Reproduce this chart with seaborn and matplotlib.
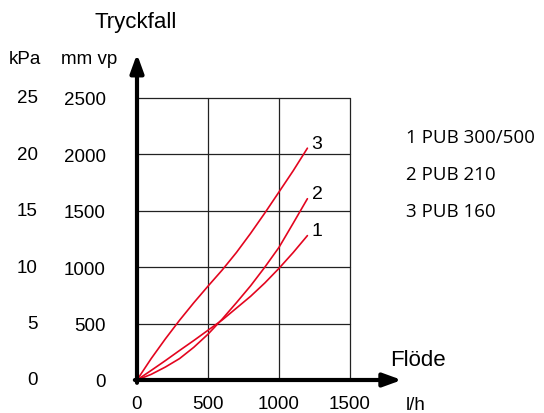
import matplotlib
matplotlib.use("Agg")
import matplotlib.pyplot as plt
import seaborn as sns

# flow in l/h, pressure drop in mm vp
flow = [0, 100, 200, 300, 400, 500, 600, 700, 800, 900, 1000, 1100, 1200]
pub_300_500 = [0, 85, 172, 262, 350, 441, 532, 637, 742, 860, 990, 1130, 1280]
pub_210 = [0, 50, 115, 190, 290, 406, 540, 685, 835, 1000, 1176, 1390, 1607]
pub_160 = [0, 190, 365, 530, 685, 832, 975, 1130, 1300, 1480, 1667, 1855, 2055]

series = [("1", "PUB 300/500", pub_300_500),
          ("2", "PUB 210", pub_210),
          ("3", "PUB 160", pub_160)]

x_ticks = [0, 500, 1000, 1500]
mm_ticks = [0, 500, 1000, 1500, 2000, 2500]
kpa_labels = ["0", "5", "10", "15", "20", "25"]

RED = "#e3051f"
W, H = 544, 414

sns.set_style("white")
plt.rcParams["font.family"] = ["Liberation Sans", "DejaVu Sans"]
plt.rcParams["text.color"] = "black"
plt.rcParams["xtick.labelcolor"] = "black"
plt.rcParams["ytick.labelcolor"] = "black"

fig = plt.figure(figsize=(W / 100, H / 100), dpi=100)
x0, x1, y0, y1 = 137, 350, 381, 99
ax = fig.add_axes([x0 / W, (H - y0) / H, (x1 - x0) / W, (y0 - y1) / H])

for num, name, vals in series:
    sns.lineplot(x=flow, y=vals, ax=ax, color=RED, lw=1.2, legend=False)
    ax.annotate(num, (flow[-1], vals[-1]), xytext=(7, 3.5), textcoords="offset points",
                ha="center", va="center", fontsize=14)

ax.set_xlim(0, 1500)
ax.set_ylim(0, 2500)
ax.set_xticks(x_ticks)
ax.set_yticks(mm_ticks)
ax.set_xticklabels([str(v) for v in x_ticks], fontsize=13.5)
ax.set_yticklabels([str(v) for v in mm_ticks], fontsize=13.5)
ax.grid(True, color="#222222", lw=0.9)
ax.set_axisbelow(True)
for gl in ax.get_xgridlines() + ax.get_ygridlines():
    gl.set_clip_on(False)
for s in ax.spines.values():
    s.set_visible(False)
ax.tick_params(axis="y", length=4, width=1, color="#333333", pad=18.5)
ax.tick_params(axis="x", length=3, width=1, color="#333333", pad=8)
ax.set_xlabel("")
ax.set_ylabel("")

# kPa column
ytr = ax.get_yaxis_transform()
for v, t in zip(mm_ticks, kpa_labels):
    ax.text(-0.465, v, t, transform=ytr, ha="right", va="center", fontsize=13.5)

# axis arrows
arrow = dict(arrowstyle="-|>,head_length=0.55,head_width=0.2", lw=3, color="black",
             shrinkA=0, shrinkB=0, mutation_scale=20)
ax.annotate("", xy=(1.243, 0), xytext=(-0.01, 0), xycoords="axes fraction",
            arrowprops=arrow, annotation_clip=False)
ax.annotate("", xy=(0, 1.156), xytext=(0, -0.01), xycoords="axes fraction",
            arrowprops=arrow, annotation_clip=False)

# headers
fig.text(136 / W, 1 - 28 / H, "Tryckfall", ha="center", va="baseline", fontsize=16)
fig.text(24.5 / W, 1 - 64 / H, "kPa", ha="center", va="baseline", fontsize=13.5)
fig.text(89 / W, 1 - 64 / H, "mm vp", ha="center", va="baseline", fontsize=13.5)
fig.text(390 / W, 1 - 366.5 / H, "Flöde", ha="left", va="baseline", fontsize=16)
fig.text(406 / W, 1 - 410 / H, "l/h", ha="left", va="baseline", fontsize=13.5)

# legend text
for i, (num, name, _) in enumerate(series):
    fig.text(406.5 / W, 1 - (143 + 37 * i) / H, f"{num} {name}", ha="left", va="baseline",
             fontsize=13.5, family=["Open Sans", "DejaVu Sans"])

fig.savefig("out.png", dpi=100)
